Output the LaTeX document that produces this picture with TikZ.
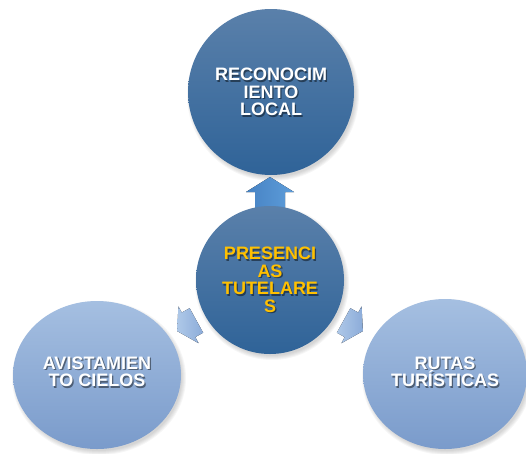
\documentclass[tikz,border=0pt]{standalone}
\usepackage{fontspec}
\setmainfont{Liberation Sans}
\usetikzlibrary{shapes.geometric}
\definecolor{dkTop}{HTML}{5A80AA}
\definecolor{dkBot}{HTML}{2F6398}
\definecolor{ltTop}{HTML}{A5BFE1}
\definecolor{ltBot}{HTML}{7A9BCB}
\definecolor{arTip}{HTML}{5E9DDA}
\definecolor{arTail}{HTML}{4682C3}
\definecolor{larTail}{HTML}{AEC8E8}
\definecolor{larTip}{HTML}{8CACD9}
\definecolor{gold}{HTML}{FFC000}
\begin{document}
\begin{tikzpicture}[x=1pt,y=-1pt,
  bubble/.style={ellipse, inner sep=0pt, outer sep=0pt},
  darkbubble/.style={bubble, top color=dkTop, bottom color=dkBot},
  lightbubble/.style={bubble, top color=ltTop, bottom color=ltBot},
  txt/.style={align=center, font=\fontsize{18}{17.5}\selectfont\bfseries, inner sep=0pt},
  txtshadow/.style={txt, text=black, text opacity=0.45},
  softshadow/.style={fill=black, opacity=0.035},
]
\useasboundingbox (0,0) rectangle (526,453);
% soft shadows of the outer circles
\foreach \cx/\cy/\rx/\ry in {271/92/83/83, 97/375/84/74, 445/374/82/75}{
  \foreach \k in {0,1,2,3,4}{
    \fill[softshadow] (\cx+2,\cy+3) ellipse [x radius={(\rx+3-\k)*1pt}, y radius={(\ry+3-\k)*1pt}];
  }
}
% outer circles
\node[darkbubble, minimum width=166pt, minimum height=166pt] (top) at (271,92) {};
\node[lightbubble, minimum width=168pt, minimum height=148pt] (left) at (97,375) {};
\node[lightbubble, minimum width=164pt, minimum height=150pt] (right) at (445,374) {};
\coordinate (c) at (270,280);
% block arrows
\begin{scope}[shift={(c)}, rotate=90]
  \fill[left color=arTail, right color=arTip] (70,-15) -- (88,-15) -- (88,-24) -- (103,0) -- (88,24) -- (88,15) -- (70,15) -- cycle;
\end{scope}
\begin{scope}[shift={(c)}, rotate=208.8]
  \fill[left color=larTail, right color=larTip] (84,-14) -- (93,-14) -- (93,-21) -- (106,0) -- (93,21) -- (93,14) -- (84,14) -- cycle;
\end{scope}
\begin{scope}[shift={(c)}, rotate=-28.8]
  \fill[left color=larTail, right color=larTip] (84,-14) -- (93,-14) -- (93,-21) -- (106,0) -- (93,21) -- (93,14) -- (84,14) -- cycle;
\end{scope}
% centre circle
\foreach \k in {0,1,2,3,4}{
  \fill[softshadow] (272,283) circle [radius={(77-\k)*1pt}];
}
\node[darkbubble, minimum width=148pt, minimum height=148pt] (ctr) at (c) {};
% texts
\node[txtshadow] (topS) at ([shift={(1.3,1.3)}]top.center) {RECONOCIM\\IENTO\\LOCAL};
\node[txt, text=white] (topT) at (top.center) {RECONOCIM\\IENTO\\LOCAL};
\node[txtshadow] (ctrS) at ([shift={(1.3,1.3)}]ctr.center) {PRESENCI\\AS\\TUTELARE\\S};
\node[txt, text=gold] (ctrT) at (ctr.center) {PRESENCI\\AS\\TUTELARE\\S};
\node[txtshadow] (leftS) at (98.3,373.3) {AVISTAMIEN\\TO CIELOS};
\node[txt, text=white] (leftT) at (97,372) {AVISTAMIEN\\TO CIELOS};
\node[txtshadow] (rightS) at (446.3,373.3) {RUTAS\\TURÍSTICAS};
\node[txt, text=white] (rightT) at (445,372) {RUTAS\\TURÍSTICAS};
\end{tikzpicture}
\end{document}
